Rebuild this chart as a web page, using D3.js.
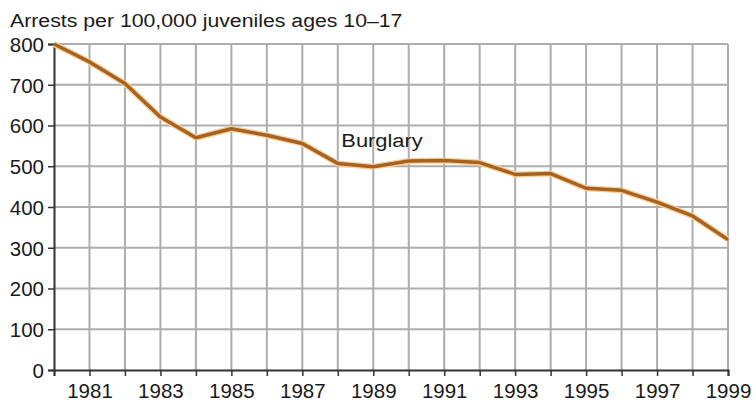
<!DOCTYPE html>
<html>
<head>
<meta charset="UTF-8">
<script src="https://d3js.org/d3.v7.min.js"></script>
<style>
  body { margin: 0; background: #fff; }
  text { font-family: "Liberation Sans", Arial, sans-serif; fill: #1a1a1a; }
</style>
</head>
<body>
<svg width="756" height="402"></svg>
<script>
// Burglary arrests per 100,000 juveniles ages 10-17
const years = d3.range(1980, 2000);
const burglary = [800, 756, 703, 621, 570, 592, 576, 556, 507, 499,
                  513, 514, 509, 480, 482, 446, 441, 412, 378, 320];
const yTicks = [0, 100, 200, 300, 400, 500, 600, 700, 800];
const xLabelYears = [1981, 1983, 1985, 1987, 1989, 1991, 1993, 1995, 1997, 1999];

const margin = { top: 44, right: 28, bottom: 32, left: 54 };
const width = 756 - margin.left - margin.right;
const height = 402 - margin.top - margin.bottom;

const svg = d3.select('svg')
  .append('g')
  .attr('transform', `translate(${margin.left}, ${margin.top})`);

const x = d3.scaleLinear().domain([1980, 1999]).range([0, width]);
const y = d3.scaleLinear().domain([0, 800]).range([height, 0]);

// grid
svg.append('g')
  .selectAll('line')
  .data(yTicks.slice(1))
  .join('line')
  .attr('x1', 0).attr('x2', width)
  .attr('y1', d => y(d)).attr('y2', d => y(d))
  .attr('stroke', '#adadad').attr('stroke-width', 2);

svg.append('g')
  .selectAll('line')
  .data(years.slice(1))
  .join('line')
  .attr('x1', d => x(d)).attr('x2', d => x(d))
  .attr('y1', 0).attr('y2', height)
  .attr('stroke', '#adadad').attr('stroke-width', 2);

// axes
const xAxis = svg.append('g')
  .attr('transform', `translate(0, ${height})`)
  .call(d3.axisBottom(x)
    .tickValues(years)
    .tickSize(6)
    .tickPadding(7)
    .tickFormat(d => xLabelYears.includes(d) ? d : ''));

const yAxis = svg.append('g')
  .call(d3.axisLeft(y).tickValues(yTicks).tickSize(6).tickPadding(4));

[xAxis, yAxis].forEach(a => {
  a.select('.domain').attr('stroke', '#333').attr('stroke-width', 2);
  a.selectAll('.tick line').attr('stroke', '#333').attr('stroke-width', 1.5);
  a.selectAll('.tick text')
    .attr('font-size', '20.5px')
    .attr('font-family', '"Liberation Sans", Arial, sans-serif')
    .attr('fill', '#1a1a1a');
});
yAxis.selectAll('.tick text').attr('dy', '0.36em');

// series line
const line = d3.line()
  .x((d, i) => x(years[i]))
  .y(d => y(d));

svg.append('path')
  .datum(burglary)
  .attr('d', line)
  .attr('fill', 'none')
  .attr('stroke', '#f8cf9c')
  .attr('stroke-width', 6)
  .attr('stroke-linejoin', 'round');

svg.append('path')
  .datum(burglary)
  .attr('d', line)
  .attr('fill', 'none')
  .attr('stroke', '#a8621f')
  .attr('stroke-width', 3.5)
  .attr('stroke-linejoin', 'round');

// series label
svg.append('text')
  .attr('transform', `translate(${x(1988.1)}, ${y(548)}) scale(1.15, 1)`)
  .attr('font-size', '19px')
  .text('Burglary');

// axis title
d3.select('svg').append('text')
  .attr('transform', 'translate(10, 27) scale(1.12, 1)')
  .attr('font-size', '19px')
  .text('Arrests per 100,000 juveniles ages 10–17');
</script>
</body>
</html>
